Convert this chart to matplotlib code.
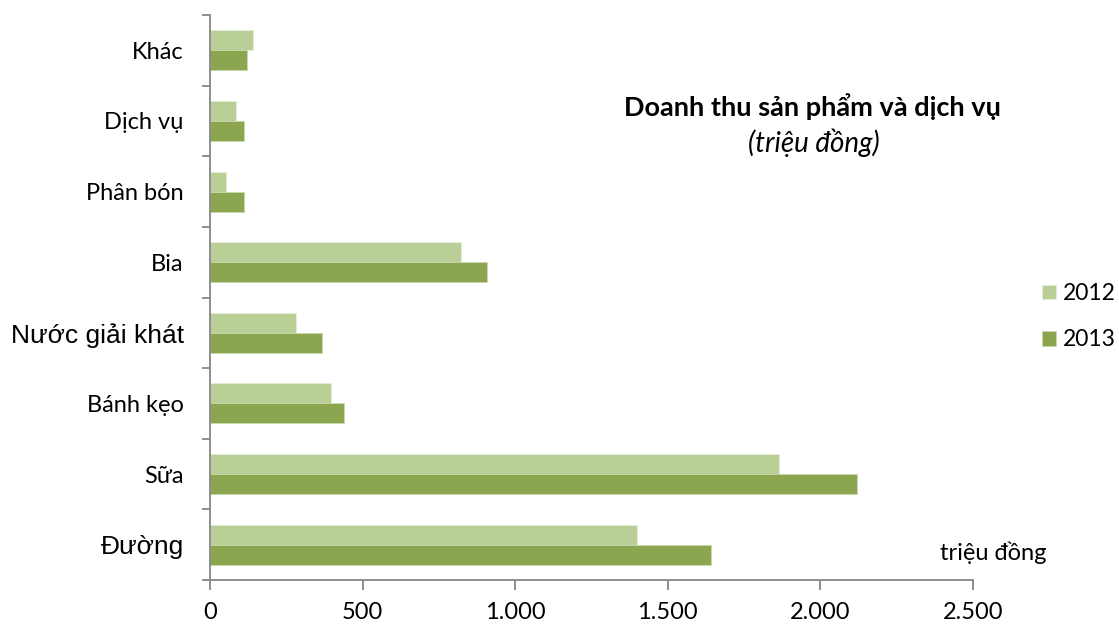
import matplotlib
matplotlib.use("Agg")
import matplotlib.pyplot as plt
import matplotlib.ticker as mticker
import numpy as np

# categories listed bottom -> top
categories = ["Đường", "Sữa", "Bánh kẹo", "Nước giải khát", "Bia", "Phân bón", "Dịch vụ", "Khác"]
rev_2012 = [1400, 1865, 395, 282, 823, 51, 85, 142]
rev_2013 = [1642, 2119, 438, 366, 908, 110, 110, 122]
years = ["2012", "2013"]
x_ticks = [0, 500, 1000, 1500, 2000, 2500]

c2012 = "#BACF98"
c2013 = "#8BA64F"
axis_col = "#868686"
calibri_like = "Lato"
arial_like = "Liberation Sans"
fs = 17

fig = plt.figure(figsize=(11.19, 6.25), dpi=100)
ax = fig.add_axes([0.1877, 0.072, 0.6818, 0.904])

y = np.arange(len(categories))
h = 0.283
b1 = ax.barh(y + h / 2, rev_2012, height=h, color=c2012, edgecolor="#E4ECD6", linewidth=0.6, label=years[0])
b2 = ax.barh(y - h / 2, rev_2013, height=h, color=c2013, edgecolor="#C9D8AE", linewidth=0.6, label=years[1])

ax.set_xlim(0, 2500)
ax.set_ylim(-0.5, len(categories) - 0.5)

for s in ["top", "right"]:
    ax.spines[s].set_visible(False)
for s in ["left", "bottom"]:
    ax.spines[s].set_color(axis_col)
    ax.spines[s].set_linewidth(1.3)

# x axis
ax.set_xticks(x_ticks)
ax.xaxis.set_major_formatter(mticker.FuncFormatter(lambda v, p: f"{int(v):,}".replace(",", ".")))
ax.tick_params(axis="x", direction="out", length=7, width=1.3, color=axis_col, pad=9,
               labelsize=fs)
for lab in ax.get_xticklabels():
    lab.set_fontfamily(calibri_like)

# y axis: labels at centers, marks at boundaries
ax.set_yticks(y)
ax.set_yticklabels(categories)
ax.set_yticks(np.arange(-0.5, len(categories), 1.0), minor=True)
ax.tick_params(axis="y", which="major", length=0, pad=19, labelsize=fs)
ax.tick_params(axis="y", which="minor", direction="out", length=6, width=1.3, color=axis_col)
for lab in ax.get_yticklabels():
    if lab.get_text() in ("Nước giải khát", "Đường"):
        lab.set_fontfamily(arial_like)
        lab.set_fontsize(19)
    else:
        lab.set_fontfamily(calibri_like)

# title block inside the plot
fig.text(0.726, 0.829, "Doanh thu sản phẩm và dịch vụ", ha="center", va="center",
         fontsize=19.5, fontweight="bold", family=calibri_like)
fig.text(0.727, 0.772, "(triệu đồng)", ha="center", va="center",
         fontsize=20, style="italic", family=calibri_like)
fig.text(0.888, 0.115, "triệu đồng", ha="center", va="center",
         fontsize=fs, family=calibri_like)

leg = fig.legend(handles=[b1, b2], labels=years, loc="center left",
                 bbox_to_anchor=(0.931, 0.493), frameon=False,
                 prop={"family": calibri_like, "size": 16.5},
                 handlelength=0.6, handleheight=0.6, handletextpad=0.3,
                 labelspacing=1.1, borderpad=0, borderaxespad=0)

fig.savefig("out.png", dpi=100)
